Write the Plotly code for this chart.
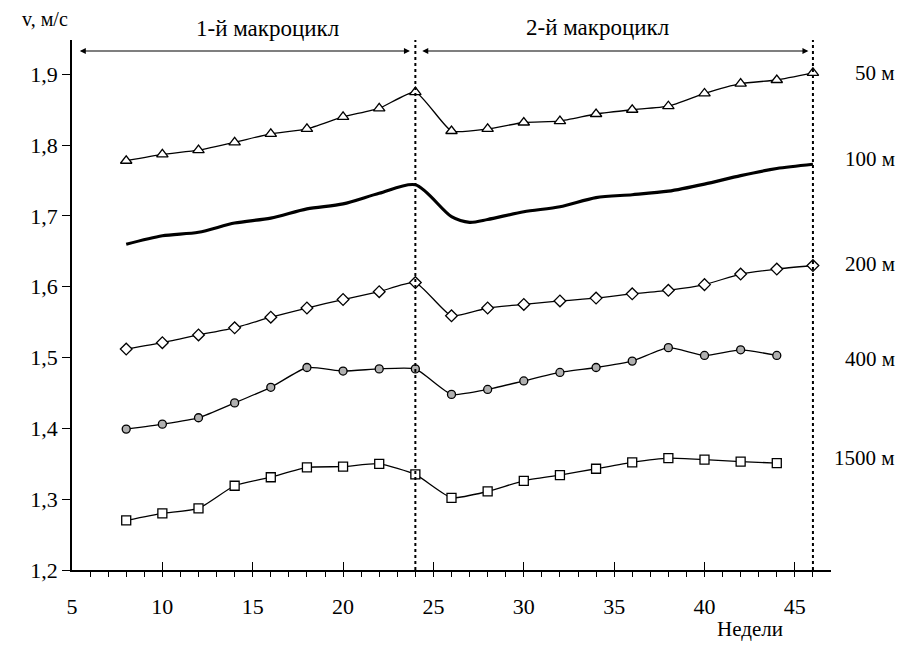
import plotly.graph_objects as go

# ---- data ----
weeks = [8, 10, 12, 14, 16, 18, 20, 22, 24, 26, 28, 30, 32, 34, 36, 38, 40, 42, 44, 46]
v50 = [1.778, 1.787, 1.793, 1.804, 1.816, 1.823, 1.840, 1.852, 1.875, 1.820,
       1.823, 1.832, 1.834, 1.844, 1.850, 1.855, 1.873, 1.887, 1.892, 1.902]
weeks100 = [8, 10, 12, 14, 16, 18, 20, 22, 24, 26, 27, 28, 30, 32, 34, 36, 38, 40, 42, 44, 46]
v100 = [1.660, 1.672, 1.677, 1.690, 1.697, 1.710, 1.717, 1.732, 1.744, 1.699, 1.691,
        1.695, 1.706, 1.713, 1.726, 1.730, 1.735, 1.745, 1.757, 1.767, 1.773]
v200 = [1.512, 1.521, 1.532, 1.542, 1.557, 1.570, 1.582, 1.593, 1.606, 1.559,
        1.570, 1.575, 1.580, 1.584, 1.590, 1.595, 1.603, 1.618, 1.625, 1.630]
weeks_short = weeks[:-1]
v400 = [1.399, 1.406, 1.415, 1.436, 1.458, 1.486, 1.481, 1.484, 1.484, 1.448,
        1.455, 1.467, 1.479, 1.486, 1.495, 1.514, 1.503, 1.511, 1.503]
v1500 = [1.270, 1.280, 1.287, 1.319, 1.331, 1.345, 1.346, 1.350, 1.335, 1.302,
         1.311, 1.326, 1.334, 1.343, 1.352, 1.358, 1.356, 1.353, 1.351]

series_labels = ["50 м", "100 м", "200 м", "400 м", "1500 м"]
label_y = [1.902, 1.780, 1.632, 1.498, 1.358]
x_ticks = [5, 10, 15, 20, 25, 30, 35, 40, 45]
y_ticks = [1.2, 1.3, 1.4, 1.5, 1.6, 1.7, 1.8, 1.9]
y_ticktext = ["1,2", "1,3", "1,4", "1,5", "1,6", "1,7", "1,8", "1,9"]
cycle_bounds = [24, 46]
arrow1 = (5.35, 23.7)
arrow2 = (24.3, 45.75)
arrow_y = 1.933
cycle_names = ["1-й макроцикл", "2-й макроцикл"]

FONT = "Liberation Serif"
fig = go.Figure()

def add_marker_series(x, y, symbol, size, color="white"):
    fig.add_trace(go.Scatter(
        x=x, y=y, mode="lines+markers",
        line=dict(color="black", width=1.3, shape="spline", smoothing=0.5),
        marker=dict(symbol=symbol, size=size, color=color,
                    line=dict(color="black", width=1.3)),
        showlegend=False, hoverinfo="x+y"))

add_marker_series(weeks, v50, "triangle-up", 10)
fig.add_trace(go.Scatter(x=weeks100, y=v100, mode="lines",
                         line=dict(color="black", width=3.2, shape="spline", smoothing=0.8),
                         showlegend=False))
add_marker_series(weeks, v200, "diamond", 9)
add_marker_series(weeks_short, v400, "circle", 8, color="#b0b0b0")
add_marker_series(weeks_short, v1500, "square", 9)

# vertical dotted cycle boundaries
for xb in cycle_bounds:
    fig.add_shape(type="line", xref="x", yref="paper", x0=xb, x1=xb, y0=0, y1=1.0,
                  line=dict(color="black", width=2, dash="dot"))

anns = []
for (a0, a1) in (arrow1, arrow2):
    anns.append(dict(x=a1, y=arrow_y, ax=a0, ay=arrow_y, xref="x", yref="y",
                     axref="x", ayref="y", showarrow=True, arrowhead=2,
                     arrowside="end+start", arrowsize=1, arrowwidth=1.2,
                     arrowcolor="black", text=""))
tfont = dict(family=FONT, size=23, color="black")
anns.append(dict(x=0.258, y=1.021, xref="paper", yref="paper", text=cycle_names[0],
                 showarrow=False, xanchor="center", yanchor="middle", font=tfont))
anns.append(dict(x=0.692, y=1.024, xref="paper", yref="paper", text=cycle_names[1],
                 showarrow=False, xanchor="center", yanchor="middle", font=tfont))
anns.append(dict(x=-0.036, y=1.04, xref="paper", yref="paper", text="v, м/с",
                 showarrow=False, xanchor="center", yanchor="middle",
                 font=dict(family=FONT, size=20, color="black")))
anns.append(dict(x=0.893, y=-0.112, xref="paper", yref="paper", text="Недели",
                 showarrow=False, xanchor="center", yanchor="middle",
                 font=dict(family=FONT, size=21, color="black")))
for lab, ly in zip(series_labels, label_y):
    anns.append(dict(x=1.087, y=ly, xref="paper", yref="y", text=lab, xanchor="right",
                     yanchor="middle", showarrow=False,
                     font=dict(family=FONT, size=21, color="black")))

axfont = dict(family=FONT, size=22, color="black")
fig.update_layout(
    width=906, height=637,
    margin=dict(l=64, r=83, t=32, b=75),
    paper_bgcolor="white", plot_bgcolor="white",
    font=dict(family=FONT, size=20, color="black"),
    annotations=anns,
    xaxis=dict(range=[5, 47], tickvals=x_ticks, showgrid=False, zeroline=False,
               showline=True, linecolor="black", linewidth=1.5,
               ticks="inside", ticklen=8, tickwidth=1.3, tickcolor="black",
               ticklabelstandoff=16, tickfont=axfont,
               minor=dict(dtick=1, ticks="outside", ticklen=5, tickwidth=1, tickcolor="black")),
    yaxis=dict(range=[1.2, 1.9485], tickvals=y_ticks, ticktext=y_ticktext,
               showgrid=False, zeroline=False, showline=True, linecolor="black",
               linewidth=1.5, ticks="outside", ticklen=8, tickwidth=1.3, tickcolor="black",
               tickfont=axfont),
)

fig.write_html("out.html")
